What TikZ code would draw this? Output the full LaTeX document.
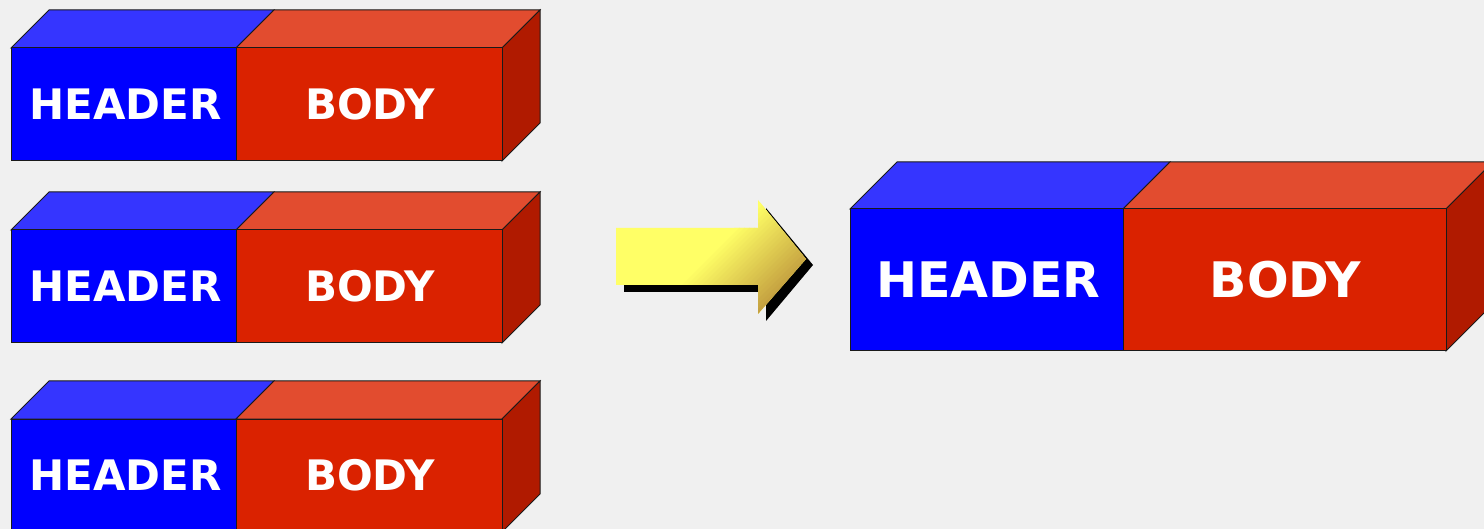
\documentclass[tikz,border=0pt]{standalone}
\usepackage{fontspec}
\setmainfont{DejaVu Sans}
\definecolor{bg}{HTML}{F0F0F0}
\definecolor{hfront}{HTML}{0000FF}
\definecolor{htop}{HTML}{3535FF}
\definecolor{bfront}{HTML}{DA2200}
\definecolor{btop}{HTML}{E24C2F}
\definecolor{bside}{HTML}{B01A00}
\definecolor{edge}{HTML}{1A1A1A}
\definecolor{arrowA}{HTML}{FFFF66}
\definecolor{arrowB}{HTML}{C29C3E}
\tikzset{
  face/.style={draw=edge, line width=0.5pt, line join=miter},
  lbl/.style={text=white, font=\bfseries, inner sep=0pt, anchor=center},
}
% #1 name, #2 left, #3 split, #4 right, #5 top, #6 height, #7 depth, #8 font size
\newcommand{\pktbox}[8]{%
  \filldraw[face, fill=htop] (#2,#5) -- ({#2+#7},{#5-#7}) -- ({#3+#7},{#5-#7}) -- (#3,#5) -- cycle;
  \filldraw[face, fill=btop] (#3,#5) -- ({#3+#7},{#5-#7}) -- ({#4+#7},{#5-#7}) -- (#4,#5) -- cycle;
  \filldraw[face, fill=bside] (#4,#5) -- ({#4+#7},{#5-#7}) -- ({#4+#7},{#5+#6-#7}) -- (#4,{#5+#6}) -- cycle;
  \filldraw[face, fill=hfront] (#2,#5) rectangle (#3,{#5+#6});
  \filldraw[face, fill=bfront] (#3,#5) rectangle (#4,{#5+#6});
  \node[lbl, font=\fontsize{#8}{#8}\selectfont\bfseries] (#1h) at ({(#2+#3)/2+2},{#5+#6/2}) {HEADER};
  \node[lbl, font=\fontsize{#8}{#8}\selectfont\bfseries] (#1b) at ({(#3+#4)/2+1},{#5+#6/2}) {BODY};
}
\begin{document}
\begin{tikzpicture}[x=0.5pt, y=-0.5pt]
\fill[bg] (0,0) rectangle (1484,529);
\useasboundingbox (0,0) rectangle (1484,529);
\clip (0,0) rectangle (1484,529);
\pktbox{p1}{11}{236}{502}{48}{113}{38}{21}
\pktbox{p2}{11}{236}{502}{230}{113}{38}{21}
\pktbox{p3}{11}{236}{502}{419}{113}{38}{21}
\pktbox{big}{850}{1123}{1446}{209}{142}{47}{24.5}
% arrow shadow
\fill[black] (624,285) -- (766,285) -- (766,208) -- (813,265) -- (766,321) -- (766,292) -- (624,292) -- cycle;
% arrow with diagonal yellow-to-gold gradient
\begin{scope}
\clip (616,228) -- (758,228) -- (758,200) -- (806,259) -- (758,314) -- (758,285) -- (616,285) -- cycle;
\fill[arrowA] (600,190) rectangle (830,330);
\foreach \i in {0,...,22} {
  \pgfmathsetmacro\sa{962+\i*5}
  \pgfmathsetmacro\sb{\sa+5.6}
  \pgfmathtruncatemacro\pc{100-\i*4.5}
  \fill[arrowA!\pc!arrowB] ({\sa/2-100},{\sa/2+100}) -- ({\sa/2+500},{\sa/2-500}) -- ({\sb/2+500},{\sb/2-500}) -- ({\sb/2-100},{\sb/2+100}) -- cycle;
}
\fill[arrowB] ({1077/2-100},{1077/2+100}) -- ({1077/2+500},{1077/2-500}) -- ({1300/2+500},{1300/2-500}) -- ({1300/2-100},{1300/2+100}) -- cycle;
\end{scope}
\end{tikzpicture}
\end{document}
